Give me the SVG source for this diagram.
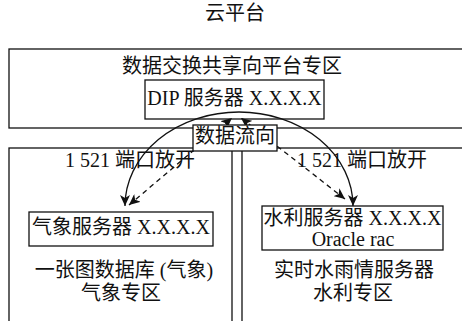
<svg xmlns="http://www.w3.org/2000/svg" width="462" height="321" viewBox="0 0 462 321">
<style>
  text { font-family: "Liberation Serif", "Noto Sans CJK SC", serif; font-size: 20px; fill: #111; text-anchor: middle; }
  .zone { fill: none; stroke: #111; stroke-width: 1.3; }
  .box { fill: #fff; stroke: #111; stroke-width: 1.3; }
  .conn { fill: none; stroke: #111; stroke-width: 1.3; marker-start: url(#arr); marker-end: url(#arr); }
  .dash { stroke-dasharray: 5 4; }
</style>
<defs>
  <marker id="arr" markerUnits="userSpaceOnUse" markerWidth="12" markerHeight="10" refX="11" refY="5" orient="auto-start-reverse" viewBox="0 0 12 10">
    <path d="M0,0 L11,5 L0,10 L3,5 z" fill="#111"/>
  </marker>
</defs>
<g id="title"><text x="235" y="20">云平台</text></g>
<g id="zone-dip">
  <rect class="zone" x="9" y="49" width="470" height="79"/>
  <text x="232" y="73">数据交换共享向平台专区</text>
</g>
<g id="zone-weather">
  <rect class="zone" x="9" y="148" width="223" height="200"/>
  <text x="130" y="167">1 521 端口放开</text>
  <text x="124" y="277">一张图数据库 (气象)</text>
  <text x="121" y="300">气象专区</text>
</g>
<g id="zone-water">
  <rect class="zone" x="242" y="148" width="240" height="200"/>
  <text x="362" y="167">1 521 端口放开</text>
  <text x="354" y="277">实时水雨情服务器</text>
  <text x="353" y="300">水利专区</text>
</g>
<g id="dip-server">
  <rect class="box" x="145" y="80" width="179" height="39"/>
  <text x="234.5" y="105">DIP 服务器 X.X.X.X</text>
</g>
<g id="weather-server">
  <rect class="box" x="29" y="212" width="184" height="34"/>
  <text x="121" y="234">气象服务器 X.X.X.X</text>
</g>
<g id="water-server">
  <rect class="box" x="262" y="206" width="181" height="44"/>
  <text x="352.5" y="225">水利服务器 X.X.X.X</text>
  <text x="353" y="246">Oracle rac</text>
</g>
<g id="connectors">
  <path class="conn" d="M125,206 A114,94 0 0 1 353,206"/>
  <path class="conn dash" d="M129,205 L232,118"/>
  <path class="conn dash" d="M345,199 L241,118"/>
</g>
<g id="data-flow-label">
  <rect class="box" x="193" y="125" width="84" height="26"/>
  <text x="235" y="143">数据流向</text>
</g>
</svg>
